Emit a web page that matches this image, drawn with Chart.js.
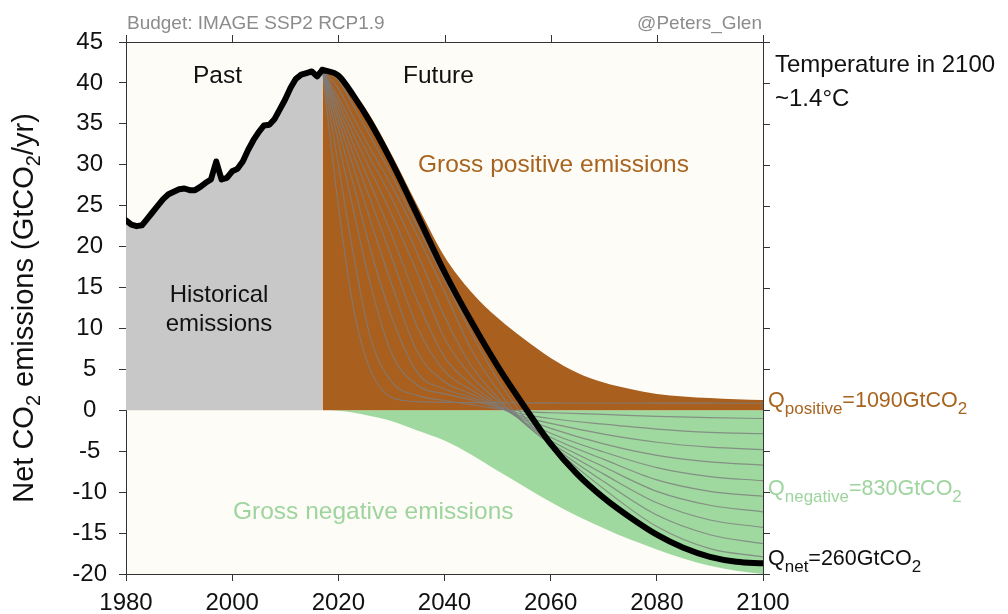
<!DOCTYPE html>
<html>
<head>
<meta charset="utf-8">
<script src="https://cdn.jsdelivr.net/npm/chart.js@4.4.0/dist/chart.umd.min.js"></script>
<style>
html, body { margin: 0; padding: 0; background: #fff; }
#wrap { width: 1008px; height: 614px; }
</style>
</head>
<body>
<div id="wrap"><canvas id="chart" width="1008" height="614"></canvas></div>
<script>
// ===== data (GtCO2/yr) =====
const histYears = [1980, 1981, 1982, 1983, 1984, 1985, 1986, 1987, 1988, 1989,
    1990, 1991, 1992, 1993, 1994, 1995, 1996, 1997, 1998, 1999,
    2000, 2001, 2002, 2003, 2004, 2005, 2006, 2007, 2008, 2009,
    2010, 2011, 2012, 2013, 2014, 2015, 2016, 2017];
const histValues = [23.2, 22.7, 22.5, 22.6, 23.4, 24.2, 25.0, 25.8, 26.4, 26.7,
    27.0, 27.1, 26.9, 26.9, 27.3, 27.8, 28.2, 30.4, 28.2, 28.4,
    29.2, 29.5, 30.4, 31.8, 33.0, 34.0, 34.8, 34.9, 35.6, 36.8,
    38.0, 39.4, 40.5, 41.0, 41.2, 41.4, 40.8, 41.6];

const futureYears = [2017, 2020, 2023, 2026, 2030, 2035, 2040, 2045, 2050, 2055,
    2060, 2065, 2070, 2075, 2080, 2085, 2090, 2095, 2100];
const netValues = [41.6, 40.9, 38.3, 35.2, 30.4, 23.7, 16.9, 10.9, 5.4, 0.5,
    -4.1, -7.8, -10.7, -13.1, -15.2, -16.8, -17.9, -18.5, -18.7];
const grossPositive = [41.6, 41.1, 38.8, 36.0, 31.3, 24.9, 18.8, 14.5, 11.3, 8.7,
    6.4, 4.6, 3.4, 2.6, 2.0, 1.7, 1.5, 1.35, 1.25];
const grossNegative = [0, -0.05, -0.3, -0.7, -1.3, -2.5, -3.7, -5.4, -7.4, -9.3,
    -11.2, -12.9, -14.4, -15.8, -17.0, -18.1, -19.0, -19.6, -20.0];

// thin grey pathways
const fanYears = [2017, 2020, 2023, 2026, 2030, 2035, 2040, 2045, 2050, 2055, 2060, 2070, 2080, 2090, 2100];
const fan0 = [41.6, 25.0, 12.0, 5.0, 1.6, 1.05, 0.98, 0.95, 0.93, 0.92, 0.9, 0.89, 0.88, 0.87, 0.86];
const fan1 = [41.6, 30.0, 18.5, 9.0, 3.5, 1.8, 1.2, 0.7, 0.2, -0.15, -0.3, -0.5, -0.75, -0.9, -1.0];
const fan2 = [41.6, 32.8, 24.0, 15.5, 7.0, 3.0, 2.0, 1.3, 0.3, -0.5, -1.0, -1.7, -2.3, -2.7, -2.85];
const fan3 = [41.6, 34.4, 27.2, 19.8, 11.5, 4.5, 2.6, 1.6, 0.4, -0.8, -1.6, -2.9, -3.9, -4.5, -4.8];
const fan4 = [41.6, 35.5, 29.4, 23.3, 15.5, 7.0, 3.5, 2.0, 0.5, -1.0, -2.2, -4.1, -5.5, -6.3, -6.7];
const fan5 = [41.6, 36.3, 31.0, 25.8, 18.8, 10.0, 4.8, 2.5, 0.6, -1.2, -2.8, -5.1, -7.0, -8.1, -8.6];
const fan6 = [41.6, 37.0, 32.3, 27.7, 21.5, 13.2, 6.5, 3.2, 0.8, -1.4, -3.3, -6.0, -8.5, -9.9, -10.5];
const fan7 = [41.6, 37.6, 33.5, 29.4, 24.0, 16.6, 8.8, 4.2, 1.2, -1.5, -3.7, -6.9, -9.9, -11.6, -12.4];
const fan8 = [41.6, 38.2, 34.5, 30.8, 26.0, 19.0, 11.5, 5.5, 1.6, -1.6, -4.0, -7.8, -11.3, -13.4, -14.3];
const fan9 = [41.6, 39.3, 35.6, 32.0, 27.5, 21.2, 14.5, 7.5, 2.5, -1.5, -4.2, -8.7, -12.8, -15.2, -16.3];
const fan10 = [41.6, 40.3, 37.0, 33.5, 28.8, 22.3, 16.0, 9.5, 3.8, -0.8, -4.2, -9.6, -14.2, -16.9, -17.9];
const fans = [fan0, fan1, fan2, fan3, fan4, fan5, fan6, fan7, fan8, fan9, fan10];

const xTicks = [1980, 2000, 2020, 2040, 2060, 2080, 2100];
const yTicks = [-20, -15, -10, -5, 0, 5, 10, 15, 20, 25, 30, 35, 40, 45];

// ===== styling =====
const FONT = "'Liberation Sans', Arial, Helvetica, sans-serif";
const BROWN = "#a9601f";
const GREEN = "#9fd99f";
const AXIS = "#333";

function pts(xs, ys) {
    return xs.map((x, i) => ({ x: x, y: ys[i] }));
}

// draw text made of normal and subscript parts
function drawParts(ctx, parts, x, y, size, subSize, color, align) {
    ctx.fillStyle = color;
    ctx.textBaseline = "alphabetic";
    ctx.textAlign = "left";
    let total = 0;
    parts.forEach(p => {
        ctx.font = (p[1] ? subSize : size) + "px " + FONT;
        total += ctx.measureText(p[0]).width;
    });
    let cx = align === "center" ? x - total / 2 : (align === "right" ? x - total : x);
    parts.forEach(p => {
        ctx.font = (p[1] ? subSize : size) + "px " + FONT;
        ctx.fillText(p[0], cx, y + (p[1] ? 7 : 0));
        cx += ctx.measureText(p[0]).width;
    });
}

const decor = {
    id: "decor",
    beforeDraw(chart) {
        const { ctx, chartArea: a } = chart;
        ctx.save();
        ctx.fillStyle = "#fdfcf6";
        ctx.fillRect(a.left, a.top, a.right - a.left, a.bottom - a.top);
        ctx.restore();
    },
    afterDraw(chart) {
        const { ctx, chartArea: a, scales } = chart;
        ctx.save();

        // top and right frame with outward ticks
        ctx.strokeStyle = AXIS;
        ctx.lineWidth = 1;
        ctx.beginPath();
        ctx.moveTo(a.left, a.top + 0.5);
        ctx.lineTo(a.right + 0.5, a.top + 0.5);
        ctx.moveTo(a.right + 0.5, a.top);
        ctx.lineTo(a.right + 0.5, a.bottom);
        xTicks.forEach(v => {
            const px = Math.round(scales.x.getPixelForValue(v)) + 0.5;
            ctx.moveTo(px, a.top);
            ctx.lineTo(px, a.top - 7);
        });
        yTicks.forEach(v => {
            const py = Math.round(scales.y.getPixelForValue(v)) + 0.5;
            ctx.moveTo(a.right, py);
            ctx.lineTo(a.right + 7, py);
        });
        ctx.stroke();

        // header notes
        drawParts(ctx, [["Budget: IMAGE SSP2 RCP1.9", 0]], 127, 29, 19, 15, "#8c8c8c", "left");
        drawParts(ctx, [["@Peters_Glen", 0]], 762, 29, 19, 15, "#8c8c8c", "right");

        // in-plot labels
        drawParts(ctx, [["Past", 0]], 193, 83, 24.5, 18, "#111", "left");
        drawParts(ctx, [["Future", 0]], 403, 83, 24.5, 18, "#111", "left");
        drawParts(ctx, [["Gross positive emissions", 0]], 418, 172, 24.5, 18, "#a8641f", "left");
        drawParts(ctx, [["Historical", 0]], 219, 302, 24, 18, "#111", "center");
        drawParts(ctx, [["emissions", 0]], 219, 331, 24, 18, "#111", "center");
        drawParts(ctx, [["Gross negative emissions", 0]], 233, 519, 24.5, 18, "#9ed49e", "left");

        // right side
        drawParts(ctx, [["Temperature in 2100", 0]], 775, 72, 24, 18, "#111", "left");
        drawParts(ctx, [["~1.4\u00B0C", 0]], 775, 106, 24, 18, "#111", "left");
        drawParts(ctx, [["Q", 0], ["positive", 1], ["=1090GtCO", 0], ["2", 1]], 768, 407, 21.5, 17, "#a8641f", "left");
        drawParts(ctx, [["Q", 0], ["negative", 1], ["=830GtCO", 0], ["2", 1]], 768, 495, 21.5, 17, "#9ed49e", "left");
        drawParts(ctx, [["Q", 0], ["net", 1], ["=260GtCO", 0], ["2", 1]], 768, 565, 21.5, 17, "#111", "left");

        // y axis title
        ctx.translate(33, (a.top + a.bottom) / 2);
        ctx.rotate(-Math.PI / 2);
        drawParts(ctx, [["Net CO", 0], ["2", 1], [" emissions (GtCO", 0], ["2", 1], ["/yr)", 0]], 0, 0, 29, 20, "#111", "center");
        ctx.restore();
    }
};

const datasets = [];

// thick black net line, past and future
datasets.push({
    data: pts(histYears, histValues),
    borderColor: "#000",
    borderWidth: 6,
    backgroundColor: "#c8c8c8",
    fill: "origin",
    tension: 0,
    borderCapStyle: "round",
    borderJoinStyle: "round",
    order: 0
});
datasets.push({
    data: pts(futureYears, netValues),
    borderColor: "#000",
    borderWidth: 6,
    fill: false,
    tension: 0.4,
    cubicInterpolationMode: "monotone",
    borderCapStyle: "round",
    order: 0
});

fans.forEach(f => {
    datasets.push({
        data: pts(fanYears, f),
        borderColor: "rgba(125,125,125,0.8)",
        borderWidth: 1.2,
        fill: false,
        tension: 0.4,
        cubicInterpolationMode: "monotone",
        order: 1
    });
});

datasets.push({
    data: pts(futureYears, grossPositive),
    borderColor: "transparent",
    borderWidth: 0,
    backgroundColor: BROWN,
    fill: "origin",
    tension: 0.4,
    cubicInterpolationMode: "monotone",
    order: 2
});
datasets.push({
    data: pts(futureYears, grossNegative),
    borderColor: "transparent",
    borderWidth: 0,
    backgroundColor: GREEN,
    fill: "origin",
    tension: 0.4,
    cubicInterpolationMode: "monotone",
    order: 2
});

const chart = new Chart(document.getElementById("chart"), {
    type: "line",
    data: { datasets: datasets },
    options: {
        responsive: false,
        animation: false,
        layout: { padding: { left: 0, right: 245, top: 42, bottom: 0 } },
        elements: { point: { radius: 0 } },
        plugins: {
            legend: { display: false },
            tooltip: { enabled: false }
        },
        scales: {
            x: {
                type: "linear",
                min: 1980,
                max: 2100,
                afterFit: s => { s.height = 40; },
                afterBuildTicks: s => { s.ticks = xTicks.map(v => ({ value: v })); },
                ticks: {
                    font: { family: FONT, size: 24 },
                    color: "#111",
                    padding: 8,
                    maxRotation: 0,
                    autoSkip: false,
                    callback: v => String(v)
                },
                grid: { drawOnChartArea: false, drawTicks: true, tickLength: 7, color: AXIS },
                border: { display: true, color: AXIS, width: 1 }
            },
            y: {
                type: "linear",
                min: -20,
                max: 45,
                afterFit: s => { s.width = 126; },
                afterBuildTicks: s => { s.ticks = yTicks.map(v => ({ value: v })); },
                ticks: {
                    font: { family: FONT, size: 24 },
                    color: "#111",
                    padding: 12,
                    crossAlign: "center",
                    autoSkip: false,
                    callback: v => String(v)
                },
                grid: { drawOnChartArea: false, drawTicks: true, tickLength: 7, color: AXIS },
                border: { display: true, color: AXIS, width: 1 }
            }
        }
    },
    plugins: [decor]
});
</script>
</body>
</html>
